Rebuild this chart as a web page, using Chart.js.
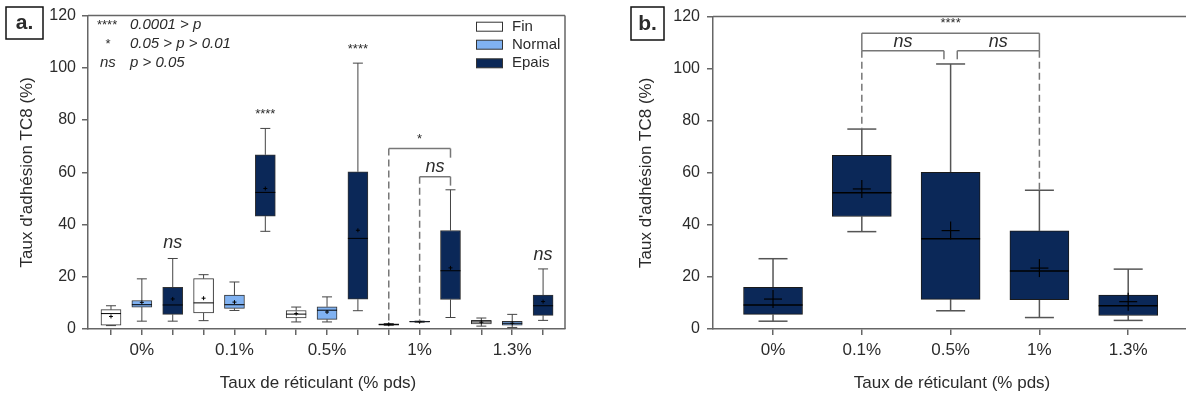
<!DOCTYPE html>
<html><head><meta charset="utf-8">
<script src="https://cdn.jsdelivr.net/npm/chart.js@4.4.1/dist/chart.umd.min.js"></script>
<style>
html,body{margin:0;padding:0;background:#fff;width:1186px;height:396px;overflow:hidden}
#ca{position:absolute;left:0;top:0}
#cb{position:absolute;left:600px;top:0}
</style></head><body>
<canvas id="ca" width="600" height="396"></canvas>
<canvas id="cb" width="586" height="396"></canvas>
<script>
// ---------- data ----------
const categories = ['0%', '0.1%', '0.5%', '1%', '1.3%'];
const seriesNames = ['Fin', 'Normal', 'Epais'];
const yTicks = [0, 20, 40, 60, 80, 100, 120];

const finMin    = [1.3, 3.2, 2.7, 1.4, 1.1];
const finQ1     = [1.5, 6.2, 4.2, 1.5, 1.9];
const finMedian = [5.9, 10.0, 5.7, 1.7, 2.7];
const finQ3     = [7.4, 19.3, 7.1, 2.0, 3.3];
const finMax    = [8.9, 20.8, 8.4, 2.1, 4.2];
const finMean   = [4.8, 11.8, 5.9, 1.8, 2.6];

const normalMin    = [3.0, 7.1, 2.7, 2.6, 0.6];
const normalQ1     = [8.4, 7.9, 3.7, 2.7, 1.5];
const normalMedian = [9.3, 9.3, 7.2, 2.8, 2.2];
const normalQ3     = [10.9, 13.0, 8.5, 2.9, 2.9];
const normalMax    = [19.2, 18.0, 12.3, 3.0, 5.6];
const normalMean   = [10.2, 10.3, 6.5, 2.8, 2.2];

const epaisMin    = [3.0, 37.4, 7.0, 4.4, 3.3];
const epaisQ1     = [5.6, 43.2, 11.4, 11.3, 5.2];
const epaisMedian = [9.2, 52.3, 34.7, 22.3, 8.9];
const epaisQ3     = [16.0, 66.7, 60.2, 37.7, 13.0];
const epaisMax    = [27.0, 76.8, 101.8, 53.3, 23.0];
const epaisMean   = [11.5, 53.8, 37.8, 23.4, 10.5];

// ---------- styling ----------
const FONT = "'Liberation Sans', Arial, sans-serif";
const TXT = '#2b2b2b';
const AXIS = '#666';
const COLORS = ['#ffffff', '#80b2f2', '#0b2858'];

const stats = [
  {min: finMin, q1: finQ1, med: finMedian, q3: finQ3, max: finMax, mean: finMean},
  {min: normalMin, q1: normalQ1, med: normalMedian, q3: normalQ3, max: normalMax, mean: normalMean},
  {min: epaisMin, q1: epaisQ1, med: epaisMedian, q3: epaisQ3, max: epaisMax, mean: epaisMean}
];

function line(ctx, x1, y1, x2, y2) { ctx.beginPath(); ctx.moveTo(x1, y1); ctx.lineTo(x2, y2); ctx.stroke(); }

function boxPlugin(id, series, o) {
  return {
    id,
    beforeDatasetsDraw(chart) {
      const ctx = chart.ctx, xs = chart.scales.x, ys = chart.scales.y;
      ctx.save();
      ctx.strokeStyle = o.whiskerColor; ctx.lineWidth = o.whiskerWidth;
      series.forEach(s => s.xs.forEach((xv, g) => {
        const x = xs.getPixelForValue(xv);
        const yq3 = ys.getPixelForValue(s.st.q3[g]), yq1 = ys.getPixelForValue(s.st.q1[g]);
        const yM = ys.getPixelForValue(s.st.max[g]), ym = ys.getPixelForValue(s.st.min[g]);
        line(ctx, x, yq3, x, yM); line(ctx, x - o.cap / 2, yM, x + o.cap / 2, yM);
        line(ctx, x, yq1, x, ym); line(ctx, x - o.cap / 2, ym, x + o.cap / 2, ym);
      }));
      ctx.restore();
    },
    afterDatasetsDraw(chart) {
      const ctx = chart.ctx, xs = chart.scales.x, ys = chart.scales.y;
      ctx.save();
      series.forEach(s => s.xs.forEach((xv, g) => {
        const x = xs.getPixelForValue(xv);
        const ymed = ys.getPixelForValue(s.st.med[g]);
        ctx.strokeStyle = '#000'; ctx.lineWidth = o.medianWidth;
        line(ctx, x - o.box / 2, ymed, x + o.box / 2, ymed);
        const ymean = ys.getPixelForValue(s.st.mean[g]);
        ctx.lineWidth = o.meanWidth;
        line(ctx, x - o.mean, ymean, x + o.mean, ymean);
        line(ctx, x, ymean - o.mean, x, ymean + o.mean);
      }));
      ctx.restore();
      if (o.extra) o.extra(chart, ctx, xs, ys);
    }
  };
}

function scaleCommon(tickVals, labelFn, xMin, xMax, yWidth, yTitlePad, xPad, yPad) {
  return {
    x: {
      type: 'linear', min: xMin, max: xMax, offset: false,
      afterBuildTicks: sc => { sc.ticks = tickVals.map(v => ({value: v})); },
      afterFit: sc => { sc.height = 67; },
      ticks: {callback: labelFn, autoSkip: false, maxRotation: 0, minRotation: 0,
        font: {family: FONT, size: 17}, color: TXT, padding: xPad},
      grid: {drawOnChartArea: false, offset: false, tickLength: 6, color: AXIS, lineWidth: 1.5},
      border: {display: true, color: AXIS, width: 1.5}
    },
    y: {
      min: 0, max: 120,
      afterBuildTicks: sc => { sc.ticks = yTicks.map(v => ({value: v})); },
      afterFit: sc => { sc.width = yWidth; },
      ticks: {font: {family: FONT, size: 16}, color: TXT, padding: yPad},
      grid: {drawOnChartArea: false, tickLength: 6, color: AXIS, lineWidth: 1.5},
      border: {display: true, color: AXIS, width: 1.5},
      title: {display: true, text: "Taux d'adhésion TC8 (%)", font: {family: FONT, size: 17},
        color: TXT, padding: {top: yTitlePad, bottom: 0}}
    }
  };
}

function drawText(ctx, t, x, y, font, align) {
  ctx.font = font; ctx.fillStyle = TXT; ctx.textAlign = align || 'center'; ctx.textBaseline = 'middle';
  ctx.fillText(t, x, y);
}

function dashed(ctx, x, y1, y2) {
  ctx.save(); ctx.setLineDash([7, 4]); line(ctx, x, y1, x, y2); ctx.restore();
}

// ---------- panel a ----------
const seriesA = stats.map((st, si) => ({st, xs: categories.map((c, g) => g * 3 + si)}));
const ticksA = [];
categories.forEach((c, g) => seriesNames.forEach((n, si) => ticksA.push(g * 3 + si)));

const STAR = '13px ' + FONT;

const extraA = (chart, ctx, xs, ys) => {
  const ca = chart.chartArea;
  ctx.save();
  ctx.strokeStyle = AXIS; ctx.lineWidth = 1.5;
  line(ctx, ca.left, ca.top, ca.right, ca.top);
  line(ctx, ca.right, ca.top, ca.right, ca.bottom);
  ctx.strokeStyle = '#111'; ctx.lineWidth = 1.5;
  ctx.strokeRect(6, 7, 37, 32);
  drawText(ctx, 'a.', 24.5, 23, 'bold 21px ' + FONT);
  drawText(ctx, '****', 97, 25, STAR, 'left');
  drawText(ctx, '0.0001 > p', 130, 25, 'italic 15px ' + FONT, 'left');
  drawText(ctx, '*', 108, 44, STAR);
  drawText(ctx, '0.05 > p > 0.01', 130, 44, 'italic 15px ' + FONT, 'left');
  drawText(ctx, 'ns', 100, 63, 'italic 15px ' + FONT, 'left');
  drawText(ctx, 'p > 0.05', 130, 63, 'italic 15px ' + FONT, 'left');
  seriesNames.forEach((n, i) => {
    const yc = [26.7, 44.7, 63.3][i];
    ctx.fillStyle = COLORS[i]; ctx.fillRect(476, yc - 4.5, 26, 9);
    ctx.strokeStyle = '#333'; ctx.lineWidth = 1; ctx.strokeRect(476.5, yc - 4.5, 26, 9);
    drawText(ctx, n, 512, yc, '15px ' + FONT, 'left');
  });
  const X = v => xs.getPixelForValue(v), Y = v => ys.getPixelForValue(v);
  drawText(ctx, '****', X(5), Y(82.3), STAR);
  drawText(ctx, '****', X(8), Y(107), STAR);
  drawText(ctx, 'ns', X(2), Y(32.8), 'italic 18px ' + FONT);
  drawText(ctx, 'ns', X(14), Y(28.2), 'italic 18px ' + FONT);
  ctx.strokeStyle = '#777'; ctx.lineWidth = 1.5;
  line(ctx, X(9), Y(69.1), X(11), Y(69.1));
  line(ctx, X(11), Y(69.1), X(11), Y(65.6));
  dashed(ctx, X(9), Y(69.1), Y(finMax[3]));
  drawText(ctx, '*', (X(9) + X(11)) / 2, Y(72.4), STAR);
  line(ctx, X(10), Y(58.3), X(11), Y(58.3));
  line(ctx, X(11), Y(58.3), X(11), Y(54.9));
  dashed(ctx, X(10), Y(58.3), Y(normalMax[3]));
  drawText(ctx, 'ns', (X(10) + X(11)) / 2, Y(62), 'italic 18px ' + FONT);
  drawText(ctx, 'Taux de réticulant (% pds)', 318, 383, '17px ' + FONT);
  ctx.restore();
};

new Chart(document.getElementById('ca'), {
  type: 'bar',
  data: {
    datasets: seriesA.map((s, si) => ({
      label: seriesNames[si],
      data: categories.map((c, g) => ({x: s.xs[g], y: [s.st.q1[g], s.st.q3[g]]})),
      backgroundColor: COLORS[si], borderColor: '#333', borderWidth: 1, borderSkipped: false,
      barThickness: 20, grouped: false
    }))
  },
  options: {
    responsive: false, animation: false, devicePixelRatio: 1,
    layout: {padding: {top: 14, right: 35, left: 0, bottom: 0}},
    plugins: {legend: {display: false}, tooltip: {enabled: false}},
    scales: scaleCommon(ticksA, v => (v % 3 === 1 ? categories[(v - 1) / 3] : ''), -0.745, 14.71, 88, 17, 5, 6)
  },
  plugins: [boxPlugin('boxA', seriesA, {whiskerColor: '#444', whiskerWidth: 1, cap: 10, box: 20,
    medianWidth: 1, meanWidth: 1, mean: 2, extra: extraA})]
});

// ---------- panel b ----------
const seriesB = [{st: stats[2], xs: categories.map((c, g) => g)}];
const ticksB = categories.map((c, g) => g);

const extraB = (chart, ctx, xs, ys) => {
  const ca = chart.chartArea;
  ctx.save();
  ctx.strokeStyle = AXIS; ctx.lineWidth = 1.5;
  line(ctx, ca.left, ca.top, chart.width, ca.top);
  ctx.strokeStyle = '#111'; ctx.lineWidth = 1.5;
  ctx.strokeRect(31, 7, 33, 33);
  drawText(ctx, 'b.', 47.5, 24, 'bold 21px ' + FONT);
  const X = v => xs.getPixelForValue(v), Y = v => ys.getPixelForValue(v);
  ctx.strokeStyle = '#777'; ctx.lineWidth = 1.5;
  line(ctx, X(1), Y(113.6), X(3), Y(113.6));
  line(ctx, X(1), Y(113.6), X(1), Y(106.9));
  line(ctx, X(3), Y(113.6), X(3), Y(106.9));
  drawText(ctx, '****', (X(1) + X(3)) / 2, Y(117.4), STAR);
  const d = 0.075;
  line(ctx, X(1), Y(106.9), X(2 - d), Y(106.9));
  line(ctx, X(2 - d), Y(106.9), X(2 - d), Y(103.6));
  line(ctx, X(2 + d), Y(106.9), X(3), Y(106.9));
  line(ctx, X(2 + d), Y(106.9), X(2 + d), Y(103.6));
  dashed(ctx, X(1), Y(106.9), Y(epaisMax[1]));
  dashed(ctx, X(3), Y(106.9), Y(epaisMax[3]));
  drawText(ctx, 'ns', (X(1) + X(2 - d)) / 2, Y(110.1), 'italic 18px ' + FONT);
  drawText(ctx, 'ns', (X(2 + d) + X(3)) / 2, Y(110.1), 'italic 18px ' + FONT);
  drawText(ctx, 'Taux de réticulant (% pds)', 352, 383, '17px ' + FONT);
  ctx.restore();
};

new Chart(document.getElementById('cb'), {
  type: 'bar',
  data: {
    datasets: seriesB.map(s => ({
      label: seriesNames[2],
      data: categories.map((c, g) => ({x: s.xs[g], y: [s.st.q1[g], s.st.q3[g]]})),
      backgroundColor: COLORS[2], borderColor: '#1a1a1a', borderWidth: 1, borderSkipped: false,
      barThickness: 59, grouped: false
    }))
  },
  options: {
    responsive: false, animation: false, devicePixelRatio: 1,
    layout: {padding: {top: 14, right: 0, left: 0, bottom: 0}},
    plugins: {legend: {display: false}, tooltip: {enabled: false}},
    scales: scaleCommon(ticksB, v => categories[v], -0.676, 4.651, 113, 36, 5, 7)
  },
  plugins: [boxPlugin('boxB', seriesB, {whiskerColor: '#555', whiskerWidth: 1.5, cap: 29, box: 59,
    medianWidth: 1.5, meanWidth: 1.2, mean: 9, extra: extraB})]
});
</script>
</body></html>
